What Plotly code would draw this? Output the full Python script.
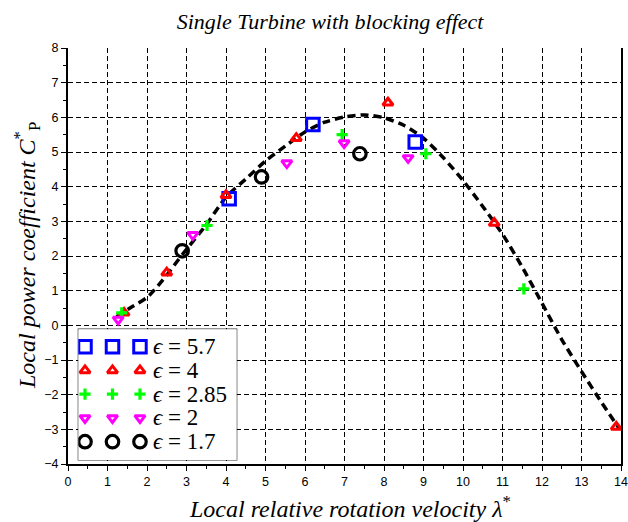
import plotly.graph_objects as go

# ---------------- data ----------------
eps_labels = ["5.7", "4", "2.85", "2", "1.7"]

lam_eps57 = [4.08, 6.20, 8.79]
cp_eps57 = [3.65, 5.79, 5.29]

lam_eps4 = [1.42, 2.50, 4.00, 5.78, 8.10, 10.79, 13.88]
cp_eps4 = [0.36, 1.52, 3.75, 5.40, 6.42, 2.95, -2.93]

lam_eps285 = [1.36, 3.52, 6.94, 9.06, 11.54]
cp_eps285 = [0.36, 2.88, 5.50, 4.95, 1.05]

lam_eps2 = [1.27, 3.16, 5.54, 6.99, 8.61]
cp_eps2 = [0.17, 2.61, 4.68, 5.26, 4.83]

lam_eps17 = [2.89, 4.90, 7.39]
cp_eps17 = [2.15, 4.28, 4.95]

curve_lam = [1.23, 1.6, 2.03, 2.5, 2.9, 3.5, 4.0, 4.5, 5.0, 5.5, 6.0, 6.5, 7.0,
             7.5, 8.0, 8.5, 9.0, 9.5, 10.0, 10.5, 11.0, 11.5, 12.0, 12.5, 13.0,
             13.5, 13.95]
curve_cp = [0.25, 0.52, 0.83, 1.45, 2.05, 2.90, 3.70, 4.22, 4.74, 5.17, 5.58,
            5.86, 6.01, 6.07, 5.99, 5.77, 5.40, 4.84, 4.18, 3.43, 2.63, 1.68,
            0.64, -0.41, -1.33, -2.21, -2.97]

x_ticks = list(range(0, 15))
y_ticks = list(range(-4, 9))

# ---------------- styles ----------------
series = [
    (lam_eps57, cp_eps57, dict(symbol="square-open", color="#0000ff", size=12.5, line=dict(width=3, color="#0000ff"))),
    (lam_eps4, cp_eps4, dict(symbol="triangle-up-open", color="#ff0000", size=9, line=dict(width=3, color="#ff0000"))),
    (lam_eps285, cp_eps285, dict(symbol="cross-thin-open", color="#00ff00", size=8, line=dict(width=3.2, color="#00ff00"))),
    (lam_eps2, cp_eps2, dict(symbol="triangle-down-open", color="#ff00ff", size=9, line=dict(width=3, color="#ff00ff"))),
    (lam_eps17, cp_eps17, dict(symbol="circle-open", color="#000000", size=12.5, line=dict(width=3.2, color="#000000"))),
]

serif = "Liberation Serif, Times New Roman, serif"
sans = "Liberation Sans, Arial, sans-serif"

PW = 553.0  # plot width in px (628 - 68 - 7)

fig = go.Figure()

fig.add_trace(go.Scatter(
    x=curve_lam, y=curve_cp, mode="lines",
    line=dict(color="black", width=3.5, dash="8px,5px", shape="spline", smoothing=0.6),
    showlegend=False, hoverinfo="skip"))

for (lx, ly, mk), lab in zip(series, eps_labels):
    fig.add_trace(go.Scatter(x=lx, y=ly, mode="markers", marker=mk,
                             name="ϵ = " + lab, showlegend=False))

# ---------------- custom legend (inset axes) ----------------
legend_slots = [0, 1, 2]
for row, ((lx, ly, mk), lab) in enumerate(zip(series, eps_labels)):
    fig.add_trace(go.Scatter(x=legend_slots, y=[row] * len(legend_slots),
                             mode="markers", marker=mk, xaxis="x2", yaxis="y2",
                             showlegend=False, hoverinfo="skip"))
    fig.add_annotation(x=2.4, y=row, xref="x2", yref="y2", xanchor="left",
                       yanchor="middle", showarrow=False,
                       text="<i>ϵ</i> = " + lab,
                       font=dict(family=serif, size=23, color="black"))

fig.add_shape(type="rect", xref="x2 domain", yref="y2 domain", x0=0, x1=1, y0=0, y1=1,
              fillcolor="#c8c8c8", line=dict(color="#303030", width=1.2), layer="below")

# ---------------- layout ----------------
fig.update_layout(
    width=628, height=522,
    margin=dict(l=68, r=7, t=48, b=58, autoexpand=False),
    paper_bgcolor="white", plot_bgcolor="white",
    showlegend=False,
    xaxis=dict(range=[0, 14], tickvals=x_ticks, ticks="outside", ticklen=5,
               tickcolor="black", tickwidth=1, showline=True, linecolor="black",
               linewidth=2, mirror=False, showgrid=True, gridcolor="black",
               griddash="5px,3px", gridwidth=1, zeroline=False,
               ticklabeloverflow="allow", automargin=False,
               tickfont=dict(family=sans, size=12.5, color="black"),
               minor=dict(dtick=0.5, ticks="outside", ticklen=3, tickcolor="black",
                          showgrid=False)),
    yaxis=dict(range=[-4, 8], tickvals=y_ticks, ticks="outside", ticklen=5,
               tickcolor="black", tickwidth=1, showline=True, linecolor="black",
               linewidth=2, mirror=True, showgrid=True, gridcolor="black",
               griddash="5px,3px", gridwidth=1, zeroline=False,
               ticklabeloverflow="allow", automargin=False,
               tickfont=dict(family=sans, size=12.5, color="black"),
               minor=dict(dtick=0.5, ticks="outside", ticklen=3, tickcolor="black",
                          showgrid=False)),
    xaxis2=dict(domain=[(78.3 - 68) / PW, (236.7 - 68) / PW], anchor="y2",
                range=[-0.244, 5.52], visible=False, fixedrange=True),
    yaxis2=dict(domain=[0.0096, 0.324], anchor="x2", range=[4.77, -0.733],
                visible=False, fixedrange=True),
    title=dict(text="<i>Single Turbine with blocking effect</i>",
               x=(176.7 - 68) / PW, xref="paper", xanchor="left",
               y=1 - 21 / 522, yref="container", yanchor="middle",
               font=dict(family=serif, size=22, color="black")),
)

fig.add_annotation(text="<i>Local relative rotation velocity λ</i><sup>*</sup>",
                   xref="paper", yref="paper", x=0.51, y=-(507 - 464) / 416,
                   xanchor="center", yanchor="middle", showarrow=False,
                   font=dict(family=serif, size=24, color="black"))
fig.add_annotation(text="<i>Local power coefficient C</i><sup>*</sup><sub>P</sub>",
                   xref="paper", yref="paper", x=-(68 - 27) / PW, y=0.5,
                   xanchor="center", yanchor="middle", textangle=-90, showarrow=False,
                   font=dict(family=serif, size=24, color="black"))

fig.write_html("out.html", config={"displayModeBar": False},
               post_script="document.body.style.margin='0px';")
